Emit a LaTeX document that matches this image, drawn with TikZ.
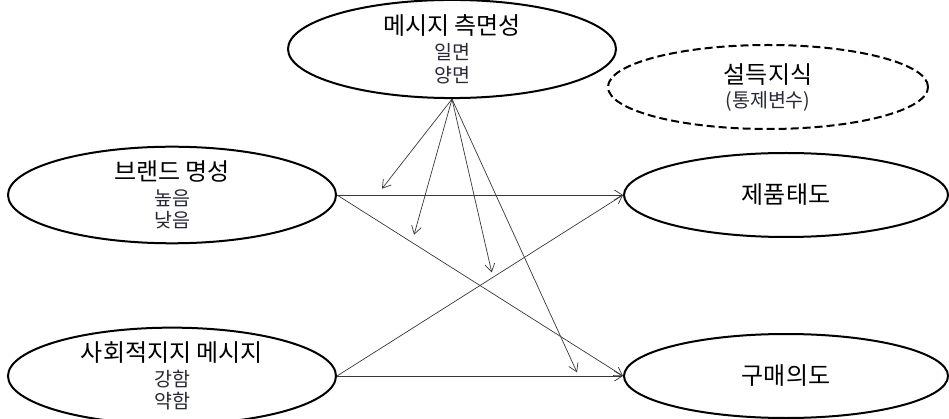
\documentclass[tikz,border=0pt]{standalone}
\usepackage{fontspec}
\setmainfont{Noto Sans CJK KR}
\usepackage{tikz}
\usetikzlibrary{arrows.meta,shapes.geometric}
\definecolor{linegray}{RGB}{55,55,55}
\definecolor{subtext}{RGB}{40,40,55}
\newcommand{\lvl}[1]{{\fontsize{19.5}{20}\selectfont\color{subtext}#1}}

\begin{document}
\begin{tikzpicture}[x=1pt,y=-1pt,
    var/.style={draw,ellipse,line width=2pt,minimum width=328pt,minimum height=84pt,inner sep=0pt,align=center,font=\fontsize{24}{24}\selectfont},
    ctrl/.style={var,dash pattern=on 8pt off 4pt,minimum width=320pt},
    arr/.style={draw=linegray,line width=0.7pt,-{Straight Barb[length=8pt,width=10pt]}}]
    \useasboundingbox (0,0) rectangle (949,419);
    \node[var,minimum height=86pt] (msg) at (452,49) {메시지 측면성\\[1pt]\lvl{일면}\\[-1pt]\lvl{양면}};
    \node[ctrl] (pk) at (768,87) {설득지식\\\lvl{(통제변수)}};
    \node[var] (brand) at (172,195) {브랜드 명성\\[1pt]\lvl{높음}\\[-2pt]\lvl{낮음}};
    \node[var] (social) at (172,376) {사회적지지 메시지\\[1pt]\lvl{강함}\\[-2pt]\lvl{약함}};
    \node[var,minimum width=324pt] (att) at (786,195) {제품태도};
    \node[var,minimum width=324pt] (pi) at (786,376) {구매의도};
    % main paths
    \draw[arr] (brand.east) -- coordinate[pos=0.14] (m1) (att.west);
    \draw[arr] (brand.east) -- coordinate[pos=0.262] (m2) (pi.west);
    \draw[arr] (social.east) -- coordinate[pos=0.545] (m3) (att.west);
    \draw[arr] (social.east) -- coordinate[pos=0.845] (m4) (pi.west);
    % moderation
    \draw[arr,shorten >=8pt] (msg.south) -- (m1);
    \draw[arr,shorten >=8pt] (msg.south) -- (m2);
    \draw[arr,shorten >=5pt] (msg.south) -- (m3);
    \draw[arr,shorten >=4pt] (msg.south) -- (m4);
\end{tikzpicture}
\end{document}
